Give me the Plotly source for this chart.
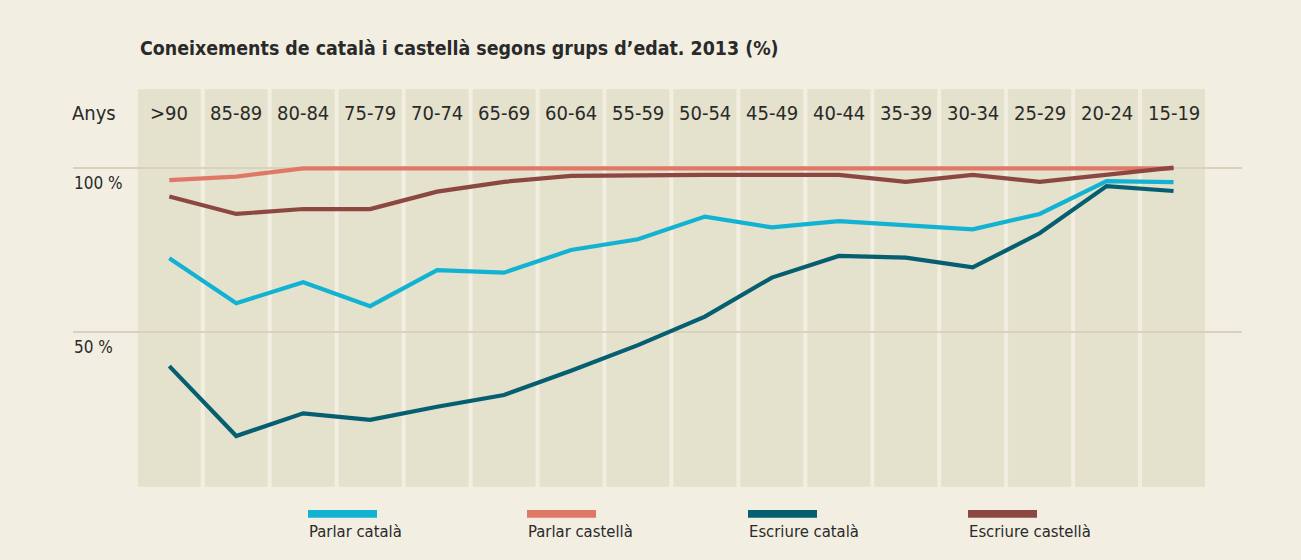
import plotly.graph_objects as go

# ---------------- data ----------------
categories = [">90", "85-89", "80-84", "75-79", "70-74", "65-69", "60-64", "55-59",
              "50-54", "45-49", "40-44", "35-39", "30-34", "25-29", "20-24", "15-19"]
parlar_catala = [72.4, 58.7, 65.1, 57.8, 68.8, 68.0, 74.9, 78.2,
                 85.1, 81.8, 83.7, 82.5, 81.2, 85.9, 95.9, 95.6]
parlar_castella = [96.2, 97.3, 99.8, 99.8, 99.8, 99.8, 99.9, 100.0,
                   99.9, 99.8, 99.8, 99.8, 99.8, 99.9, 100.0, 99.8]
escriure_catala = [39.5, 18.2, 25.1, 23.1, 27.1, 30.7, 38.1, 45.9,
                   54.6, 66.5, 73.1, 72.6, 69.6, 80.0, 94.4, 92.9]
escriure_castella = [91.2, 85.9, 87.4, 87.4, 92.7, 95.7, 97.5, 97.8,
                     97.8, 97.8, 97.8, 95.7, 97.8, 95.7, 97.8, 100.0]
y_ticks = [50, 100]
y_tick_labels = ["50 %", "100 %"]
series_names = ["Parlar català", "Parlar castellà", "Escriure català", "Escriure castellà"]
title_text = "Coneixements de català i castellà segons grups d\u2019edat. 2013 (%)"
header_label = "Anys"

# ---------------- styling ----------------
W, H = 1301, 560
BG = "#f2efe2"
BAND = "#e4e1cc"
GRID = "#d6d2bb"
TXT = "#2a2a2a"
colors = {"Parlar català": "#12b2d3",
          "Parlar castellà": "#e07868",
          "Escriure català": "#065f71",
          "Escriure castellà": "#8c4840"}
FONT = "DejaVu Sans Condensed, Liberation Sans Narrow, sans-serif"

def px(x):
    return x / W

def py(y):
    return 1 - y / H

# axis geometry (pixels)
plot_left, plot_right = 72.5, 1241.5
first_center, step = 169.3, 66.95
x_min = (plot_left - first_center) / step
x_max = (plot_right - first_center) / step
# y: 100 -> 167.7px, 50 -> 331.7px
ppu = (331.7 - 167.7) / 50
y_top = 100 + 167.7 / ppu
y_bot = 100 - (H - 167.7) / ppu

fig = go.Figure()

xs = list(range(len(categories)))
order = [("Parlar castellà", parlar_castella),
         ("Escriure català", escriure_catala),
         ("Parlar català", parlar_catala),
         ("Escriure castellà", escriure_castella)]
for name, vals in order:
    fig.add_trace(go.Scatter(
        x=xs, y=vals, mode="lines", name=name,
        line=dict(color=colors[name], width=4.2),
        hovertemplate="%{text}: %{y:.1f} %<extra>" + name + "</extra>",
        text=categories,
    ))

shapes = []
half = 0.47
for i, _ in enumerate(categories):
    shapes.append(dict(type="rect", xref="x", yref="paper",
                       x0=i - half, x1=i + half, y0=py(486.7), y1=py(89.3),
                       fillcolor=BAND, line=dict(width=0), layer="below"))

annotations = []
annotations.append(dict(text=title_text, xref="paper", yref="paper",
                        x=px(138), y=py(48), xanchor="left", yanchor="middle",
                        showarrow=False,
                        font=dict(family=FONT, size=19.4, color=TXT, weight="bold")))
annotations.append(dict(text=header_label, xref="paper", yref="paper",
                        x=px(70), y=py(113), xanchor="left", yanchor="middle",
                        showarrow=False, font=dict(family=FONT, size=20, color=TXT)))
for i, c in enumerate(categories):
    annotations.append(dict(text=c, xref="x", yref="paper", x=i, y=py(113),
                            xanchor="center", yanchor="middle", showarrow=False,
                            font=dict(family=FONT, size=20, color=TXT)))
for v, t in zip(y_ticks, y_tick_labels):
    annotations.append(dict(text=t, xref="paper", yref="y", x=px(72), y=v,
                            xanchor="left", yanchor="middle", yshift=-15.6,
                            showarrow=False, font=dict(family=FONT, size=17, color=TXT)))

# manual legend: swatch above label
legend_x = [308, 527, 748, 968]
for name, lx in zip(series_names, legend_x):
    shapes.append(dict(type="rect", xref="paper", yref="paper",
                       x0=px(lx), x1=px(lx + 69), y0=py(517.7), y1=py(510),
                       fillcolor=colors[name], line=dict(width=0)))
    annotations.append(dict(text=name, xref="paper", yref="paper",
                            x=px(lx - 1), y=py(531.5), xanchor="left", yanchor="middle",
                            showarrow=False, font=dict(family=FONT, size=16.5, color=TXT)))

fig.update_layout(
    width=W, height=H,
    margin=dict(l=0, r=0, t=0, b=0),
    paper_bgcolor=BG, plot_bgcolor="rgba(0,0,0,0)",
    showlegend=False,
    shapes=shapes, annotations=annotations,
    xaxis=dict(domain=[px(plot_left), px(plot_right)], range=[x_min, x_max],
               showgrid=False, zeroline=False, showticklabels=False, fixedrange=True),
    yaxis=dict(domain=[0, 1], range=[y_bot, y_top], tickvals=y_ticks,
               showgrid=True, gridcolor=GRID, gridwidth=1.5, zeroline=False,
               showticklabels=False, fixedrange=True),
)

fig.write_html("out.html", config={"displayModeBar": False},
               post_script="document.body.style.margin='0';"
                           "document.body.style.overflow='hidden';")
